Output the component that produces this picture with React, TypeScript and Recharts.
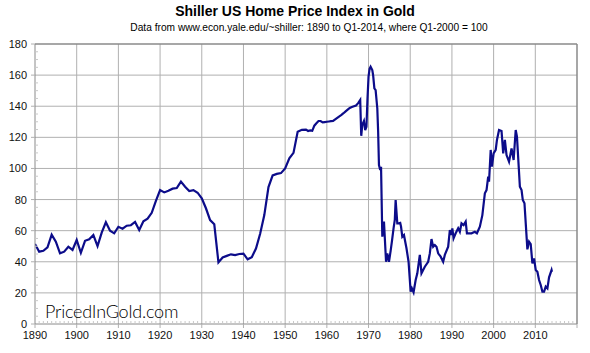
import React from "react";
import { LineChart, Line, XAxis, YAxis, ReferenceLine } from "recharts";

const years: number[] = [
  1890, 1891, 1892, 1893, 1894, 1895, 1896, 1897, 1898, 1899,
  1900, 1901, 1902, 1903, 1904, 1905, 1906, 1907, 1908, 1909,
  1910, 1911, 1912, 1913, 1914, 1915, 1916, 1917, 1918, 1919,
  1920, 1921, 1922, 1923, 1924, 1925, 1926, 1927, 1928, 1929,
  1930, 1931, 1932, 1933, 1934, 1935, 1936, 1937, 1938, 1939,
  1940, 1941, 1942, 1943, 1944, 1945, 1946, 1947, 1948, 1949,
  1950, 1951, 1952, 1953, 1954, 1955, 1955.5, 1956, 1956.5, 1957,
  1957.5, 1958, 1958.5, 1959, 1959.5, 1960, 1960.5, 1961, 1961.5, 1962,
  1962.5, 1963, 1963.5, 1964, 1964.5, 1965, 1965.5, 1966, 1966.5, 1967,
  1967.5, 1968, 1968.25, 1968.5, 1968.9, 1969.2, 1969.5, 1969.75, 1970, 1970.25,
  1970.5, 1970.9, 1971.1, 1971.4, 1971.7, 1972.1, 1972.3, 1972.5, 1972.8, 1973,
  1973.3, 1973.7, 1974.2, 1974.5, 1974.9, 1975.3, 1975.6, 1976, 1976.3, 1976.5,
  1976.9, 1977.3, 1977.6, 1977.8, 1978.1, 1978.5, 1978.8, 1979.1, 1979.6, 1980.1,
  1980.4, 1980.8, 1981.3, 1981.7, 1982.3, 1982.7, 1983.5, 1984.3, 1984.7, 1985.1,
  1985.5, 1985.9, 1986.3, 1986.7, 1987.3, 1987.9, 1988.3, 1989.1, 1989.5, 1989.9,
  1990.1, 1990.4, 1990.9, 1991.5, 1991.9, 1992.3, 1992.8, 1993.3, 1993.6, 1994.7,
  1995.5, 1996, 1996.7, 1997.3, 1997.9, 1998.3, 1998.7, 1998.9, 1999.3, 1999.6,
  2000, 2000.5, 2000.8, 2001.3, 2001.9, 2002.3, 2002.7, 2003.1, 2003.7, 2004.3,
  2004.8, 2005.3, 2005.6, 2006.3, 2006.7, 2007, 2007.4, 2008.1, 2008.5, 2008.9,
  2009.3, 2009.7, 2010.1, 2010.5, 2010.9, 2011.3, 2011.7, 2012.1, 2012.5, 2012.9,
  2013.3, 2013.9, 2014,
];

const indexValues: number[] = [
  51.4, 46.5, 47.1, 49.3, 57.4, 52.9, 45.4, 46.5, 49.7, 47.6,
  54.0, 45.8, 53.5, 54.4, 57.2, 50.1, 58.7, 65.4, 60.0, 58.3,
  62.5, 61.3, 63.2, 63.5, 65.6, 60.4, 66.0, 67.7, 71.5, 79.2,
  86.1, 84.6, 85.7, 87.0, 87.4, 91.5, 88.2, 85.5, 86.1, 84.4,
  80.8, 74.4, 66.8, 64.1, 39.6, 42.8, 43.8, 44.8, 44.3, 45.0,
  45.2, 41.6, 43.0, 48.5, 58.0, 70.0, 88.0, 95.5, 96.5, 97.0,
  100.0, 106.5, 110.0, 123.6, 124.8, 125.0, 124.1, 124.5, 124.2, 127.5,
  129.0, 130.5, 130.5, 129.6, 129.8, 130.0, 130.2, 130.4, 130.5, 131.5,
  132.5, 133.5, 134.4, 135.5, 136.7, 137.8, 138.9, 139.5, 140.0, 140.5,
  142.0, 144.0, 121.0, 128.0, 130.5, 124.7, 126.8, 145.0, 159.0, 164.0,
  165.4, 163.3, 160.0, 151.5, 150.4, 138.7, 124.0, 102.2, 99.0, 101.1,
  56.1, 65.8, 40.0, 45.4, 40.0, 47.0, 52.9, 61.5, 66.9, 79.7,
  64.7, 64.7, 65.0, 62.5, 56.1, 57.2, 52.9, 48.7, 40.0, 20.8,
  22.9, 20.4, 28.3, 32.6, 44.4, 32.6, 36.8, 40.0, 45.4, 54.6,
  49.7, 50.8, 49.7, 45.4, 43.3, 40.0, 44.4, 49.7, 60.4, 57.2,
  61.5, 55.1, 58.3, 61.5, 59.3, 64.7, 63.6, 65.8, 58.3, 58.3,
  59.3, 58.3, 62.5, 70.0, 84.0, 86.1, 94.7, 91.5, 111.9, 101.1,
  109.7, 111.9, 118.3, 124.7, 124.1, 109.7, 118.3, 108.6, 104.3, 112.9,
  105.4, 124.7, 120.4, 88.2, 86.1, 79.7, 77.6, 48.0, 52.9, 51.4,
  39.0, 42.2, 34.7, 33.6, 28.3, 25.1, 20.8, 20.8, 24.0, 22.9,
  30.0, 34.7, 33.6,
];

const xMajorTicks: number[] = [1890, 1900, 1910, 1920, 1930, 1940, 1950, 1960, 1970, 1980, 1990, 2000, 2010];
const yMajorTicks: number[] = [0, 20, 40, 60, 80, 100, 120, 140, 160, 180];

const xDomain: [number, number] = [1890, 2020];
const yDomain: [number, number] = [0, 180];

const xAllTicks: number[] = [];
for (let yr = xDomain[0]; yr <= xDomain[1]; yr++) xAllTicks.push(yr);
const yAllTicks: number[] = [];
for (let v = yDomain[0]; v <= yDomain[1]; v += 5) yAllTicks.push(v);

const data = years.map((y, i) => ({ year: y, value: indexValues[i] }));

const TITLE = "Shiller US Home Price Index in Gold";
const SUBTITLE = "Data from www.econ.yale.edu/~shiller: 1890 to Q1-2014, where Q1-2000 = 100";
const WATERMARK = "PricedInGold.com";

const FONT = "'Liberation Sans', Arial, sans-serif";
const GRID = "#b0b0b0";
const MINOR = "#c8c8c8";
const BORDER = "#8a8a8a";

const XTick = (props: any) => {
  const { x, y, payload } = props;
  const v = payload.value;
  const major = xMajorTicks.includes(v) || v === xDomain[1];
  if (major) {
    return (
      <g>
        <line x1={x} x2={x} y1={y} y2={y + 4} stroke={GRID} />
        {xMajorTicks.includes(v) && (
          <text x={x} y={y + 15} textAnchor="middle" fontSize={11} fontFamily={FONT} fill="#111">
            {v}
          </text>
        )}
      </g>
    );
  }
  return <line x1={x} x2={x} y1={y} y2={y - 3} stroke={MINOR} />;
};

const YTick = (props: any) => {
  const { x, y, payload } = props;
  const v = payload.value;
  if (yMajorTicks.includes(v)) {
    return (
      <g>
        <line x1={x - 4} x2={x} y1={y} y2={y} stroke={GRID} />
        <text x={x - 8} y={y + 4} textAnchor="end" fontSize={11} fontFamily={FONT} fill="#111">
          {v}
        </text>
      </g>
    );
  }
  return <line x1={x} x2={x + 3} y1={y} y2={y} stroke={MINOR} />;
};

export default function App() {
  return (
    <div style={{ position: "absolute", left: 0, top: 0, width: 590, height: 353, background: "#fff" }}>
      <LineChart
        width={590}
        height={353}
        data={data}
        margin={{ top: 44, right: 13, bottom: 0, left: 0 }}
      >
        {xMajorTicks.slice(1).map((t) => (
          <ReferenceLine key={"vx" + t} x={t} stroke={GRID} strokeWidth={1} />
        ))}
        {yMajorTicks.slice(1, -1).map((t) => (
          <ReferenceLine key={"hy" + t} y={t} stroke={GRID} strokeWidth={1} />
        ))}
        <ReferenceLine y={yDomain[1]} stroke={BORDER} strokeWidth={1.5} />
        <ReferenceLine x={xDomain[1]} stroke={BORDER} strokeWidth={1.5} />
        <XAxis
          dataKey="year"
          type="number"
          domain={xDomain}
          ticks={xAllTicks}
          interval={0}
          tickSize={0}
          tickMargin={0}
          tickLine={false}
          axisLine={{ stroke: BORDER }}
          tick={XTick}
          height={29}
          allowDataOverflow
        />
        <YAxis
          type="number"
          domain={yDomain}
          ticks={yAllTicks}
          interval={0}
          tickSize={0}
          tickMargin={0}
          tickLine={false}
          axisLine={{ stroke: BORDER }}
          tick={YTick}
          width={35}
          allowDataOverflow
        />
        <Line
          type="linear"
          dataKey="value"
          stroke="#0c0c8a"
          strokeWidth={2.2}
          dot={false}
          isAnimationActive={false}
        />
      </LineChart>
      <div
        style={{
          position: "absolute",
          left: 0,
          width: 590,
          top: 3,
          textAlign: "center",
          fontFamily: FONT,
          fontWeight: "bold",
          fontSize: 14,
          color: "#000",
        }}
      >
        {TITLE}
      </div>
      <div
        style={{
          position: "absolute",
          left: 0,
          width: 590,
          top: 22,
          textAlign: "center",
          fontFamily: FONT,
          fontSize: 10.2,
          color: "#000",
          paddingLeft: 28,
          boxSizing: "border-box",
        }}
      >
        {SUBTITLE}
      </div>
      <div
        style={{
          position: "absolute",
          left: 45,
          top: 300,
          fontFamily: "Lato, 'Open Sans', sans-serif",
          fontWeight: 300,
          fontSize: 18,
          color: "#000",
          letterSpacing: -0.2,
        }}
      >
        {WATERMARK}
      </div>
    </div>
  );
}
